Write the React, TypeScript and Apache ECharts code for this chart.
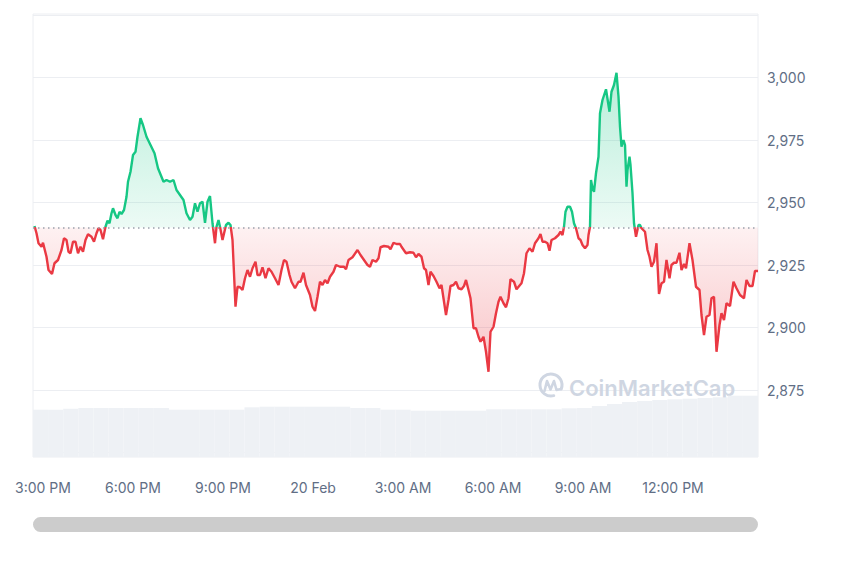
import React, { useEffect, useRef } from 'react';
import * as echarts from 'echarts';

// minutes since 3:00 PM (19 Feb)
const minutes = [
  -17, -13, -9, -3, 0, 7, 11, 18, 23, 30, 37, 42, 47, 51, 55, 60, 65, 70, 75, 80, 85, 90, 97, 102, 107, 111, 115, 120, 125, 129,
  133, 137, 140, 145, 149, 153, 157, 162, 167, 170, 175, 180, 185, 189, 195, 200, 207, 215, 223, 230, 241, 247, 254, 261, 267, 274,
  281, 287, 294, 299, 304, 309, 314, 319, 324, 329, 334, 339, 344, 347, 351, 354, 359, 366, 371, 375, 379, 382, 385, 389, 394, 399,
  404, 409, 414, 419, 425, 429, 434, 439, 445, 451, 457, 464, 471, 477, 482, 487, 493, 497, 504, 511, 515, 521, 526, 534, 539, 544,
  549, 554, 559, 564, 569, 574, 581, 586, 594, 602, 606, 611, 619, 629, 635, 642, 649, 654, 659, 666, 671, 675, 682, 691, 695, 701,
  707, 714, 717, 726, 734, 741, 746, 751, 757, 762, 766, 771, 775, 781, 787, 793, 797, 806, 811, 815, 821, 826, 831, 837, 842, 846,
  851, 855, 861, 866, 871, 875, 881, 886, 891, 895, 901, 906, 911, 915, 921, 926, 931, 935, 942, 947, 954, 957, 962, 967, 973, 979,
  984, 991, 995, 999, 1004, 1009, 1013, 1017, 1024, 1031, 1035, 1039, 1042, 1045, 1049, 1054, 1058, 1062, 1066, 1071, 1075, 1079,
  1084, 1089, 1091, 1094, 1096, 1099, 1102, 1106, 1111, 1114, 1119, 1126, 1133, 1137, 1142, 1147, 1151, 1154, 1157, 1161, 1164,
  1167, 1169, 1173, 1175, 1179, 1182, 1186, 1191, 1194, 1197, 1204, 1209, 1213, 1217, 1222, 1227, 1232, 1237, 1242, 1247, 1253,
  1257, 1262, 1267, 1273, 1277, 1282, 1286, 1293, 1299, 1306, 1313, 1317, 1322, 1327, 1333, 1337, 1342, 1347, 1353, 1357, 1362,
  1367, 1374, 1381, 1387, 1394, 1402, 1407, 1413, 1419, 1424, 1430,
];

const prices = [
  2940.6, 2937.7, 2933.7, 2932.3, 2933.9, 2928.3, 2923.0, 2921.4, 2925.7, 2927.0, 2931.0, 2935.7, 2935.0, 2930.3, 2929.7, 2934.3,
  2934.3, 2929.7, 2932.3, 2930.3, 2935.0, 2937.3, 2936.3, 2934.3, 2937.7, 2939.7, 2939.0, 2935.3, 2940.3, 2942.7,
  2941.7, 2945.7, 2947.7, 2945.0, 2943.7, 2946.3, 2945.4, 2947.0, 2952.3, 2958.3, 2962.3, 2969.0, 2970.3, 2976.3, 2983.7, 2981.0,
  2976.3, 2973.0, 2969.7, 2963.7, 2958.3, 2959.0, 2958.3, 2959.0, 2955.0, 2953.0,
  2951.0, 2945.7, 2943.0, 2944.3, 2949.7, 2946.3, 2949.7, 2950.3, 2941.9, 2950.3, 2952.6, 2941.7, 2933.7, 2940.3, 2943.0, 2940.3,
  2935.0, 2941.0, 2941.9, 2941.0, 2935.0, 2921.7, 2908.3, 2916.3, 2916.1, 2915.0,
  2919.7, 2923.0, 2920.3, 2923.7, 2926.3, 2921.0, 2921.0, 2924.1, 2919.7, 2923.7, 2922.3, 2919.7, 2917.0, 2923.0, 2927.0, 2926.3,
  2921.0, 2918.3, 2915.7, 2918.3, 2918.3, 2921.9, 2917.0, 2913.0, 2908.3, 2906.6,
  2912.3, 2918.3, 2917.0, 2919.0, 2917.7, 2920.3, 2922.3, 2925.0, 2924.3, 2924.3, 2923.3, 2927.0, 2928.1, 2931.0, 2929.0, 2927.0,
  2925.0, 2924.3, 2927.0, 2926.3, 2927.7, 2932.1, 2932.6, 2932.3, 2931.3, 2933.9,
  2933.4, 2933.4, 2932.3, 2929.7, 2930.1, 2929.9, 2928.1, 2929.4, 2928.3, 2923.7, 2923.0, 2917.0, 2922.3, 2920.6, 2918.3, 2915.7,
  2917.0, 2905.0, 2911.0, 2916.6, 2917.0, 2918.3, 2915.7, 2915.3, 2916.6, 2919.0,
  2915.0, 2911.7, 2899.7, 2899.7, 2896.3, 2894.3, 2896.3, 2890.3, 2882.3, 2898.3, 2900.3, 2905.7, 2910.3, 2912.3, 2909.7, 2908.1,
  2911.7, 2919.3, 2918.3, 2915.3, 2917.0, 2917.7, 2921.7, 2929.7, 2931.7, 2930.3,
  2933.7, 2935.7, 2937.4, 2934.3, 2934.3, 2933.7, 2930.7, 2935.0, 2935.7, 2937.0, 2938.3, 2937.0, 2940.3, 2946.3, 2948.3, 2948.3,
  2946.3, 2941.7, 2939.7, 2935.7, 2935.0, 2933.0,
  2931.7, 2933.0, 2937.0, 2940.3, 2959.0, 2955.7, 2954.3, 2961.7, 2968.3, 2985.7, 2991.0, 2995.3, 2986.3, 2994.3, 2997.0, 3001.9,
  2992.3, 2980.3, 2972.3, 2975.0, 2973.0,
  2956.3, 2963.0, 2968.3, 2965.0, 2953.7, 2941.7, 2936.3, 2941.0, 2941.0, 2939.7, 2938.3, 2931.0, 2928.3, 2924.3, 2926.3, 2933.7,
  2913.4, 2917.7, 2918.3, 2927.0, 2919.7,
  2925.0, 2925.9, 2925.9, 2929.9, 2923.0, 2925.4, 2923.7, 2933.7, 2927.0, 2916.3, 2915.0, 2905.0, 2897.0, 2904.3, 2905.0, 2911.7,
  2912.3, 2890.3, 2901.0, 2905.7, 2903.0,
  2909.7, 2908.6, 2918.3, 2915.7, 2913.0, 2911.7, 2919.0, 2916.6, 2916.6, 2922.6, 2922.6,
];

const baseline = 2940;

const xTickMinutes = [0, 180, 360, 540, 720, 900, 1080, 1260];
const xTickLabels = ['3:00 PM', '6:00 PM', '9:00 PM', '20 Feb', '3:00 AM', '6:00 AM', '9:00 AM', '12:00 PM'];
const yTicks = [2875, 2900, 2925, 2950, 2975, 3000];

// 24h volume (billions), one bar per 30 minutes
const volumes = [
  14.2, 14.2, 14.5, 14.7, 14.7, 14.7, 14.7, 14.7, 14.7, 14.2, 14.2, 14.2, 14.2, 14.2, 14.9, 15.1,
  15.1, 15.1, 15.1, 15.1, 15.1, 14.7, 14.7, 14.2, 14.2, 13.9, 13.9, 13.9, 13.9, 13.9, 14.3, 14.3,
  14.3, 14.3, 14.3, 14.6, 14.7, 15.3, 15.9, 16.5, 16.8, 17.1, 17.3, 17.5, 17.7, 17.9, 18.4, 18.4,
];

const GREEN = '#16c784';
const RED = '#ea3943';
const LABEL = '#616e85';
const FONT = 'Inter';
const H = 567;

export default function App() {
  const ref = useRef<HTMLDivElement>(null);

  useEffect(() => {
    document.body.style.margin = '0';
    const chart = echarts.init(ref.current as HTMLDivElement, null, { renderer: 'svg' });

    const linePts = minutes.map((m, i) => [m, prices[i]]);
    const hidden = { show: false };

    const renderAreas = (params: any, api: any) => {
      if (params.dataIndex !== 0) return null;
      const n = minutes.length;
      const up: number[][] = [];
      const down: number[][] = [];
      for (let i = 0; i < n; i++) {
        up.push(api.coord([minutes[i], Math.max(prices[i], baseline)]));
        down.push(api.coord([minutes[i], Math.min(prices[i], baseline)]));
      }
      const bEnd = api.coord([minutes[n - 1], baseline]);
      const bStart = api.coord([minutes[0], baseline]);
      up.push(bEnd, bStart);
      down.push(bEnd, bStart);
      return {
        type: 'group',
        children: [
          {
            type: 'polygon',
            shape: { points: up },
            style: {
              fill: new echarts.graphic.LinearGradient(0, 0, 0, 1, [
                { offset: 0, color: 'rgba(22,199,132,0.30)' },
                { offset: 1, color: 'rgba(22,199,132,0.08)' },
              ]),
            },
          },
          {
            type: 'polygon',
            shape: { points: down },
            style: {
              fill: new echarts.graphic.LinearGradient(0, 0, 0, 1, [
                { offset: 0, color: 'rgba(234,57,67,0.07)' },
                { offset: 1, color: 'rgba(234,57,67,0.30)' },
              ]),
            },
          },
        ],
      };
    };

    const option: any = {
      animation: false,
      grid: [
        { left: 33, right: 92, top: 15, bottom: 114.5, containLabel: false, show: false },
        { left: 33, right: 92, top: 14, bottom: 110, containLabel: false, show: true, borderColor: '#eceef2', borderWidth: 1 },
      ],
      xAxis: [
        {
          type: 'value',
          gridIndex: 0,
          min: -20,
          max: 1430,
          interval: 20,
          axisLine: hidden,
          axisTick: hidden,
          splitLine: hidden,
          axisLabel: {
            margin: 27.5,
            fontSize: 14,
            fontFamily: FONT,
            color: LABEL,
            showMinLabel: false,
            showMaxLabel: false,
            formatter: (v: number) => {
              const idx = xTickMinutes.indexOf(Math.round(v));
              return idx >= 0 ? xTickLabels[idx] : '';
            },
          },
        },
        { type: 'category', gridIndex: 1, data: volumes.map((_, i) => i), show: false, boundaryGap: true },
      ],
      yAxis: [
        {
          type: 'value',
          gridIndex: 0,
          position: 'right',
          min: 2850,
          max: 3025,
          interval: 25,
          axisLine: hidden,
          axisTick: hidden,
          splitLine: { show: true, lineStyle: { color: '#eceef2', width: 1 } },
          axisLabel: {
            margin: 9,
            fontSize: 14,
            fontFamily: FONT,
            color: LABEL,
            formatter: (v: number) => (yTicks.indexOf(v) >= 0 ? v.toLocaleString('en-US') : ''),
          },
        },
        { type: 'value', gridIndex: 1, min: 0, max: 132.9, show: false, splitLine: hidden },
      ],
      graphic: [
        {
          type: 'arc',
          shape: { cx: 551, cy: 385, r: 11, startAngle: Math.PI * 0.42, endAngle: Math.PI * 2.12 },
          style: { stroke: '#cfd6e2', lineWidth: 3, fill: 'none', lineCap: 'round' },
          z: 1,
          silent: true,
        },
        {
          type: 'polyline',
          shape: { points: [[544.5, 391], [547, 381], [550.5, 389.5], [554, 381], [556.5, 390], [561, 389]] },
          style: { stroke: '#cfd6e2', lineWidth: 2.6, fill: 'none', lineJoin: 'round', lineCap: 'round' },
          z: 1,
          silent: true,
        },
        {
          type: 'text',
          x: 569,
          y: 388,
          style: {
            text: 'CoinMarketCap',
            fontSize: 22,
            fontWeight: 600,
            fontFamily: FONT,
            fill: '#cfd6e2',
            verticalAlign: 'middle',
            align: 'left',
          },
          z: 1,
          silent: true,
        },
        {
          type: 'rect',
          shape: { x: 33, y: 517, width: 725, height: 15, r: 7.5 },
          style: { fill: '#cccccc' },
          silent: true,
        },
      ],
      series: [
        {
          type: 'bar',
          xAxisIndex: 1,
          yAxisIndex: 1,
          data: volumes,
          barCategoryGap: '0%',
          itemStyle: { color: '#eef1f5' },
          silent: true,
          z: 1,
        },
        {
          type: 'custom',
          xAxisIndex: 0,
          yAxisIndex: 0,
          data: linePts,
          encode: { x: 0, y: 1 },
          renderItem: renderAreas,
          silent: true,
          z: 2,
        },
        {
          type: 'line',
          xAxisIndex: 0,
          yAxisIndex: 0,
          data: linePts,
          symbol: 'none',
          showSymbol: false,
          lineStyle: { width: 2.4, color: RED },
          silent: true,
          z: 3,
          markLine: {
            silent: true,
            symbol: ['none', 'none'],
            label: { show: false },
            lineStyle: { color: '#9aa1ac', type: [1.5, 3.5], width: 1.5 },
            data: [{ yAxis: baseline }],
          },
        },
      ],
    };

    chart.setOption(option);

    // split line colour at the baseline, using the axis scale for its pixel position
    const px = chart.convertToPixel({ gridIndex: 0 }, [0, baseline]) as number[];
    const b = Math.min(Math.max(px[1] / H, 0), 1);
    chart.setOption({
      series: [
        {},
        {},
        {
          lineStyle: {
            width: 2.4,
            color: new echarts.graphic.LinearGradient(0, 0, 0, H, [
              { offset: 0, color: GREEN },
              { offset: b, color: GREEN },
              { offset: b, color: RED },
              { offset: 1, color: RED },
            ], true),
          },
        },
      ],
    });

    return () => chart.dispose();
  }, []);

  return <div ref={ref} style={{ position: 'absolute', left: 0, top: 0, width: 850, height: 567 }} />;
}
